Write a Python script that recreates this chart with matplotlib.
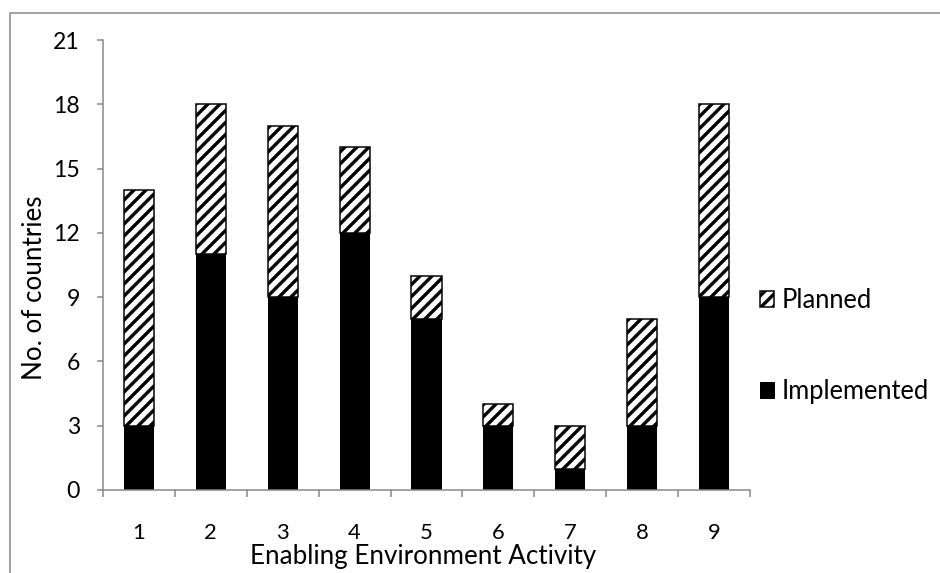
import matplotlib
matplotlib.use("Agg")
import matplotlib.pyplot as plt
from matplotlib.patches import Rectangle, Patch

categories = [1, 2, 3, 4, 5, 6, 7, 8, 9]
implemented = [3, 11, 9, 12, 8, 3, 1, 3, 9]
planned = [11, 7, 8, 4, 2, 1, 2, 5, 9]
yticks = [0, 3, 6, 9, 12, 15, 18, 21]

W, H, DPI = 940, 573, 72
plt.rcParams['font.family'] = ['Lato', 'DejaVu Sans']
plt.rcParams['hatch.linewidth'] = 3.4
plt.rcParams['hatch.color'] = 'black'

fig = plt.figure(figsize=(W / DPI, H / DPI), dpi=DPI)
ax = fig.add_axes([103 / W, 1 - 490 / H, (750 - 103) / W, (490 - 40) / H])

gray = '#868686'
bw = 0.42
ax.bar(categories, implemented, width=bw, color='black', edgecolor='black',
       linewidth=0, label='Implemented', zorder=2)
ax.bar(categories, planned, width=bw, bottom=implemented, color='white',
       edgecolor='black', linewidth=1.5, hatch='//', label='Planned', zorder=2)

ax.set_xlim(0.5, 9.5)
ax.set_ylim(0, 21)
ax.set_yticks(yticks)
ax.set_xticks(categories)
ax.set_xticks([c - 0.5 for c in categories] + [9.5], minor=True)
ax.tick_params(axis='x', which='major', length=0, pad=33, labelsize=22)
ax.tick_params(axis='x', which='minor', length=7, width=1.5, color=gray, direction='out')
ax.tick_params(axis='y', length=6, width=1.5, color=gray, direction='out', pad=17, labelsize=23)

for s in ['top', 'right']:
    ax.spines[s].set_visible(False)
for s in ['left', 'bottom']:
    ax.spines[s].set_color(gray)
    ax.spines[s].set_linewidth(1.5)

fig.text(35 / W, 1 - 288 / H, 'No. of countries', rotation=90, fontsize=26,
         ha='center', va='center')
fig.text(423 / W, 1 - 564 / H, 'Enabling Environment Activity', fontsize=26,
         ha='center', va='baseline')

handles = [Patch(facecolor='white', edgecolor='black', hatch='//', linewidth=1.5),
           Patch(facecolor='black', edgecolor='black')]
fig.legend(handles, ['Planned', 'Implemented'], loc='center left',
           bbox_to_anchor=(760 / W, 1 - 346 / H), frameon=False, fontsize=25.5,
           handlelength=0.55, handleheight=0.55, handletextpad=0.3,
           labelspacing=2.6, borderpad=0, borderaxespad=0)

fig.add_artist(Rectangle((10 / W, -0.1), 1.2, 1.1 - 13 / H, transform=fig.transFigure,
                         fill=False, edgecolor=gray, linewidth=1.5))

fig.savefig('out.png', dpi=DPI)
